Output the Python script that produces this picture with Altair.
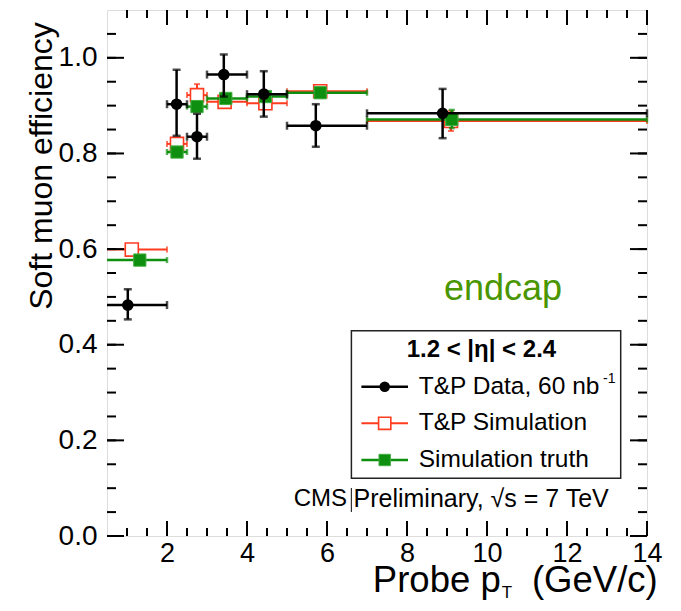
import altair as alt
import pandas as pd

# ---------------- data ----------------
bin_lo = [0.0, 2.0, 2.5, 3.0, 4.0, 5.0, 7.0]
bin_hi = [2.0, 2.5, 3.0, 4.0, 5.0, 7.0, 14.0]

# T&P Data, 60 nb-1
data_x = [1.02, 2.24, 2.75, 3.42, 4.42, 5.72, 8.89]
data_y = [0.483, 0.903, 0.835, 0.965, 0.924, 0.858, 0.884]
data_ylo = [0.453, 0.837, 0.789, 0.919, 0.877, 0.814, 0.832]
data_yhi = [0.516, 0.975, 0.883, 1.007, 0.972, 0.903, 0.935]

# T&P Simulation
tps_x = [1.12, 2.25, 2.75, 3.44, 4.46, 5.83, 9.10]
tps_y = [0.599, 0.820, 0.922, 0.908, 0.905, 0.930, 0.868]
tps_ylo = [0.589, 0.810, 0.900, 0.898, 0.895, 0.921, 0.847]
tps_yhi = [0.609, 0.830, 0.945, 0.918, 0.915, 0.939, 0.889]

# Simulation truth
tru_x = [1.32, 2.25, 2.75, 3.47, 4.46, 5.83, 9.12]
tru_y = [0.577, 0.803, 0.898, 0.915, 0.919, 0.927, 0.871]
tru_ylo = [0.570, 0.795, 0.890, 0.908, 0.912, 0.920, 0.853]
tru_yhi = [0.584, 0.811, 0.906, 0.922, 0.926, 0.934, 0.891]

x_labels = [2, 4, 6, 8, 10, 12, 14]
y_labels = [0.0, 0.2, 0.4, 0.6, 0.8, 1.0]
x_minor = [1 + 0.5 * i for i in range(26)]        # 1.0 ... 13.5
y_minor = [0.05 * i for i in range(1, 22)]        # 0.05 ... 1.05

W, H = 540, 526
FONT = "Liberation Sans"
BLACK = "#000000"
RED = "#ff3b1f"
GREEN = "#0f8f0f"
ENDCAP = "#4a9600"

xs = alt.Scale(domain=[0.5, 14], nice=False, zero=False)
ys = alt.Scale(domain=[0, 1.1], nice=False, zero=False)
xaxis = alt.Axis(values=x_labels, ticks=False, domain=False, grid=False,
                 labelFontSize=27, labelFont=FONT, labelColor="black",
                 labelPadding=4, labelFlush=False, labelOverlap=False, format="d")
yaxis = alt.Axis(values=y_labels, ticks=False, domain=False, grid=False,
                 labelFontSize=28, labelFont=FONT, labelColor="black",
                 labelPadding=10, labelFlush=False, labelOverlap=False, format=".1f")


def X(f):
    return alt.X(f"{f}:Q", scale=xs, axis=xaxis, title=None)


def Y(f):
    return alt.Y(f"{f}:Q", scale=ys, axis=yaxis, title=None)


def frame(xv, yv, ylo, yhi):
    return pd.DataFrame({"x": xv, "y": yv, "ylo": ylo, "yhi": yhi,
                         "xlo": bin_lo, "xhi": bin_hi})


def series(df, color, lw, cap, point):
    base = alt.Chart(df)
    hbar = base.mark_rule(color=color, strokeWidth=lw, clip=True).encode(
        x=X("xlo"), x2="xhi", y=Y("y"))
    vbar = base.mark_rule(color=color, strokeWidth=lw).encode(
        x=X("x"), y=Y("ylo"), y2="yhi")
    capl = base.mark_tick(color=color, orient="vertical", size=cap, thickness=lw, clip=True).encode(
        x=X("xlo"), y=Y("y"))
    caph = base.mark_tick(color=color, orient="vertical", size=cap, thickness=lw).encode(
        x=X("xhi"), y=Y("y"))
    capd = base.mark_tick(color=color, orient="horizontal", size=cap, thickness=lw).encode(
        x=X("x"), y=Y("ylo"))
    capu = base.mark_tick(color=color, orient="horizontal", size=cap, thickness=lw).encode(
        x=X("x"), y=Y("yhi"))
    pts = point.encode(x=X("x"), y=Y("y"))
    return [hbar, vbar, capl, caph, capd, capu, pts]


d_data = frame(data_x, data_y, data_ylo, data_yhi)
d_tps = frame(tps_x, tps_y, tps_ylo, tps_yhi)
d_tru = frame(tru_x, tru_y, tru_ylo, tru_yhi)

layers = []
layers += series(d_tps, RED, 2, 6,
                 alt.Chart(d_tps).mark_point(shape="square", filled=True, fill="white",
                                             stroke=RED, strokeWidth=1.6, size=170, opacity=1))
layers += series(d_tru, GREEN, 2.5, 6,
                 alt.Chart(d_tru).mark_point(shape="square", filled=True, fill=GREEN,
                                             stroke="#3fae3f", strokeWidth=1, size=150, opacity=1))
layers += series(d_data, BLACK, 2.5, 8,
                 alt.Chart(d_data).mark_circle(color=BLACK, size=135, opacity=1))

# ---------------- inward ticks on all four sides ----------------
xmaj = pd.DataFrame({"v": x_labels})
xmin = pd.DataFrame({"v": x_minor})
ymaj = pd.DataFrame({"v": y_labels})
ymin = pd.DataFrame({"v": y_minor})


def xticks(df, length):
    b = alt.Chart(df).mark_rule(color="black", strokeWidth=2)
    return [b.encode(x=X("v"), y=alt.value(H), y2=alt.value(H - length)),
            b.encode(x=X("v"), y=alt.value(0), y2=alt.value(length))]


def yticks(df, length):
    b = alt.Chart(df).mark_rule(color="black", strokeWidth=2)
    return [b.encode(y=Y("v"), x=alt.value(0), x2=alt.value(length)),
            b.encode(y=Y("v"), x=alt.value(W), x2=alt.value(W - length))]


layers += xticks(xmaj, 15) + xticks(xmin, 8) + yticks(ymaj, 17) + yticks(ymin, 9)

# ---------------- legend, labels, annotations ----------------
one = pd.DataFrame({"a": [0]})


def txt(s, x, y, size, color="black", align="left", baseline="middle", weight="normal", angle=0):
    kw = dict(text=s, font=FONT, fontSize=size, color=color, align=align,
              baseline=baseline, fontWeight=weight)
    if angle:
        kw["angle"] = angle
    return alt.Chart(one).mark_text(**kw).encode(x=alt.value(x), y=alt.value(y))


LX0, LX1, LY0, LY1 = 244.4, 513.7, 320.7, 468.3
legend_box = alt.Chart(one).mark_rect(fill="white", stroke="#222222", strokeWidth=1.5).encode(
    x=alt.value(LX0), x2=alt.value(LX1), y=alt.value(LY0), y2=alt.value(LY1))
layers.append(legend_box)
layers.append(txt("1.2 < |η| < 2.4", 374.4, 339.5, 24, weight="bold", align="center"))

entry_y = [376.7, 413.3, 450.0]
sym_x0, sym_x1, sym_c = 254.4, 301.0, 277.7
for ey, col, lw in [(entry_y[0], BLACK, 2.5), (entry_y[1], RED, 2), (entry_y[2], GREEN, 2.5)]:
    layers.append(alt.Chart(one).mark_rule(color=col, strokeWidth=lw).encode(
        x=alt.value(sym_x0), x2=alt.value(sym_x1), y=alt.value(ey)))
layers.append(alt.Chart(one).mark_circle(color=BLACK, size=110, opacity=1).encode(
    x=alt.value(sym_c), y=alt.value(entry_y[0])))
layers.append(alt.Chart(one).mark_point(shape="square", filled=True, fill="white", stroke=RED,
                                        strokeWidth=1.6, size=150, opacity=1).encode(
    x=alt.value(sym_c), y=alt.value(entry_y[1])))
layers.append(alt.Chart(one).mark_point(shape="square", filled=True, fill=GREEN, stroke="#3fae3f",
                                        strokeWidth=1, size=130, opacity=1).encode(
    x=alt.value(sym_c), y=alt.value(entry_y[2])))

layers.append(txt("T&P Data, 60 nb", 311.7, entry_y[0], 24.5))
layers.append(txt("-1", 496, entry_y[0] - 8, 14))
layers.append(txt("T&P Simulation", 311.7, entry_y[1], 24.5))
layers.append(txt("Simulation truth", 311.7, entry_y[2], 24.5))

# CMS label below the legend, with the thin bar between "CMS" and "Preliminary"
layers.append(txt("CMS", 240, 489, 24, align="right"))
layers.append(alt.Chart(one).mark_rule(color="#333333", strokeWidth=1.2).encode(
    x=alt.value(244.4), y=alt.value(478), y2=alt.value(502)))
layers.append(txt("Preliminary,  √s = 7 TeV", 246.5, 489, 25, align="left"))
layers.append(txt("endcap", 455, 290, 36, color=ENDCAP, align="right", baseline="alphabetic"))

# axis titles
layers.append(txt("Soft muon efficiency", -65, 156, 32, align="center", angle=270))
layers.append(txt("Probe p", 393.7, 582, 36.5, align="right", baseline="alphabetic"))
layers.append(txt("T", 394.7, 588, 17, baseline="alphabetic"))
layers.append(txt("(GeV/c)", 550.7, 582, 36.5, align="right", baseline="alphabetic"))

chart = alt.layer(*layers).properties(
    width=W, height=H,
    padding={"left": 99, "top": 2, "right": 20, "bottom": 67},
    autosize=alt.AutoSizeParams(type="none"),
).configure_view(stroke="black", strokeWidth=2).configure(background="white")

chart.save("out.html", embed_options={"renderer": "svg", "actions": False})
